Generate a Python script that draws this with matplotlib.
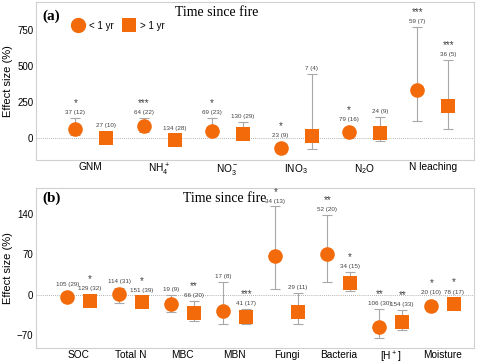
import matplotlib
matplotlib.use('Agg')
import matplotlib.pyplot as plt
from matplotlib.lines import Line2D
import numpy as np

plt.rcParams['font.family'] = ['Liberation Sans', 'DejaVu Sans']
plt.rcParams['mathtext.default'] = 'regular'

ORANGE = '#F26A0A'
GRAY = '#A8A8A8'

# ---- panel (a): N cycling ----
a_cats = ['GNM', 'NH$_4^+$', 'NO$_3^-$', 'INO$_3$', 'N$_2$O', 'N leaching']
a_lt1_mean = [62, 85, 51, -69, 40, 333]
a_lt1_lo = [25, 45, 15, -100, 5, 118]
a_lt1_hi = [141, 143, 143, -40, 70, 770]
a_lt1_lab = ['37 (12)', '64 (22)', '69 (23)', '23 (9)', '79 (16)', '59 (7)']
a_lt1_sig = ['*', '***', '*', '*', '*', '***']
a_gt1_mean = [2, -14, 28, 14, 35, 222]
a_gt1_lo = [-25, -40, -5, -76, -21, 62]
a_gt1_hi = [25, 10, 111, 444, 145, 541]
a_gt1_lab = ['27 (10)', '134 (28)', '130 (29)', '7 (4)', '24 (9)', '36 (5)']
a_gt1_sig = ['', '', '', '', '', '***']
a_yticks = [0, 250, 500, 750]

# ---- panel (b): soil properties ----
b_cats = ['SOC', 'Total N', 'MBC', 'MBN', 'Fungi', 'Bacteria', '[H$^+$]', 'Moisture']
b_lt1_mean = [-3.5, 1, -15, -28, 67, 71, -56, -18.5]
b_lt1_lo = [-10, -14, -29, -51, 10, 23, -74, -26]
b_lt1_hi = [3, 12, 0, 23, 153, 138, -24, -11]
b_lt1_lab = ['105 (29)', '114 (31)', '19 (9)', '17 (8)', '34 (13)', '52 (20)', '106 (30)', '20 (10)']
b_lt1_sig = ['', '', '', '', '*', '**', '**', '*']
b_gt1_mean = [-10, -13, -32, -38, -29, 21, -47, -16]
b_gt1_lo = [-16, -20, -45, -50, -51, 6, -61, -24]
b_gt1_hi = [-4, -6, -11, -24, 3, 40, -26, -8]
b_gt1_lab = ['129 (32)', '151 (39)', '66 (20)', '41 (17)', '29 (11)', '34 (15)', '154 (33)', '78 (17)']
b_gt1_sig = ['*', '*', '**', '***', '', '*', '**', '*']
b_yticks = [-70, 0, 70, 140]


def draw_group(ax, x, mean, lo, hi, labels, sigs, marker, ms, lab_fs):
    mean = np.asarray(mean, float)
    yerr = [mean - np.asarray(lo, float), np.asarray(hi, float) - mean]
    ax.errorbar(x, mean, yerr=yerr, fmt='none', ecolor=GRAY, elinewidth=0.8,
                capsize=3.5, capthick=0.8, zorder=2)
    ax.plot(x, mean, linestyle='none', marker=marker, ms=ms, color=ORANGE,
            markeredgewidth=0, zorder=3)
    # place labels just above the error bar top, or the marker if that is higher
    pts_per_px = 72 / ax.figure.dpi
    for xi, m, h, lab, sig in zip(x, mean, hi, labels, sigs):
        p0 = ax.transData.transform((xi, m))[1]
        p1 = ax.transData.transform((xi, h))[1]
        off = max((p1 - p0) * pts_per_px, ms / 2) + 2
        ax.annotate(lab, (xi, m), xytext=(0, off), textcoords='offset points',
                    ha='center', va='bottom', fontsize=lab_fs, color='#404040')
        if sig:
            ax.annotate(sig, (xi, m), xytext=(0, off + lab_fs + 0.5),
                        textcoords='offset points', ha='center', va='bottom',
                        fontsize=7, color='#404040')


def style_axes(ax, cats, yticks, ylim, xlim, letter, letter_y, title_x, title_y):
    ax.set_xlim(*xlim)
    ax.set_ylim(*ylim)
    ax.set_xticks(np.arange(len(cats)))
    ax.set_xticklabels(cats, fontsize=7.3)
    ax.set_yticks(yticks)
    ax.tick_params(axis='y', labelsize=7, length=0, pad=2)
    ax.tick_params(axis='x', length=0, pad=1.5)
    for s in ax.spines.values():
        s.set_color('#D0D0D0')
        s.set_linewidth(0.8)
    ax.axhline(0, color='#9A9A9A', linestyle=(0, (1, 1.5)), linewidth=0.6, zorder=1)
    ax.set_ylabel('Effect size (%)', fontsize=8, labelpad=3)
    ax.text(0.015, letter_y, letter, transform=ax.transAxes, ha='left', va='top',
            fontsize=11, fontweight='bold', family='Liberation Serif')
    ax.text(title_x, title_y, 'Time since fire', transform=ax.transAxes, ha='left',
            va='top', fontsize=10, family='Liberation Serif')


fig = plt.figure(figsize=(4.8, 3.64), dpi=100)
ax_a = fig.add_axes([0.075, 0.5604, 0.9125, 0.4341])
ax_b = fig.add_axes([0.075, 0.044, 0.9125, 0.4395])

off_a = 0.226
xa = np.arange(len(a_cats))
style_axes(ax_a, a_cats, a_yticks, (-150, 940), (-0.8, 5.6), '(a)', 0.95, 0.317, 0.975)
draw_group(ax_a, xa - off_a, a_lt1_mean, a_lt1_lo, a_lt1_hi, a_lt1_lab, a_lt1_sig, 'o', 10.5, 4.5)
draw_group(ax_a, xa + off_a, a_gt1_mean, a_gt1_lo, a_gt1_hi, a_gt1_lab, a_gt1_sig, 's', 9.8, 4.5)

handles = [Line2D([], [], linestyle='none', marker='o', ms=11, color=ORANGE, markeredgewidth=0),
           Line2D([], [], linestyle='none', marker='s', ms=10.5, color=ORANGE, markeredgewidth=0)]
ax_a.legend(handles, ['< 1 yr', '> 1 yr'], loc='upper left', bbox_to_anchor=(0.074, 0.905),
            ncol=2, frameon=False, fontsize=7, handlelength=1.2, handletextpad=0.55,
            columnspacing=0.9, borderaxespad=0)

off_b = 0.22
xb = np.arange(len(b_cats))
style_axes(ax_b, b_cats, b_yticks, (-92, 185), (-0.82, 7.6), '(b)', 0.975, 0.336, 0.975)
draw_group(ax_b, xb - off_b, b_lt1_mean, b_lt1_lo, b_lt1_hi, b_lt1_lab, b_lt1_sig, 'o', 10.5, 4.5)
draw_group(ax_b, xb + off_b, b_gt1_mean, b_gt1_lo, b_gt1_hi, b_gt1_lab, b_gt1_sig, 's', 9.8, 4.5)

fig.savefig('out.png', dpi=100)
